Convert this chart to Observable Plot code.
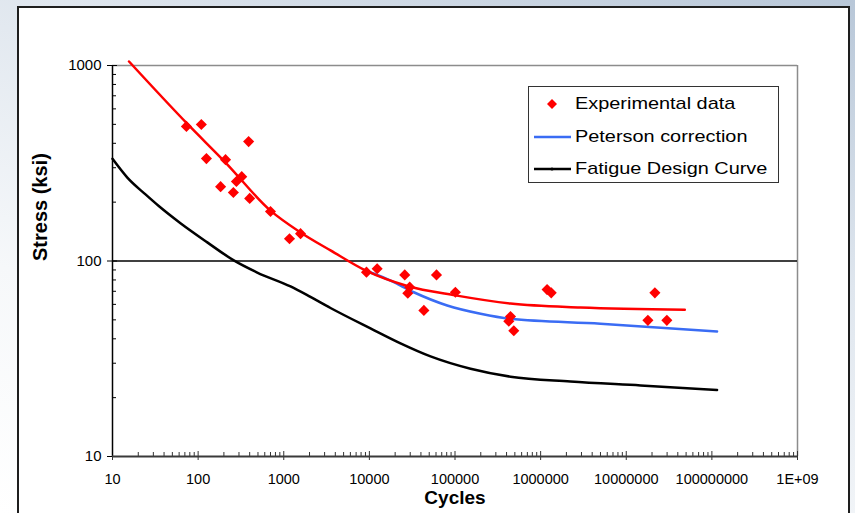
<!DOCTYPE html>
<html>
<head>
<meta charset="utf-8">
<script src="https://cdn.jsdelivr.net/npm/d3@7"></script>
<script src="https://cdn.jsdelivr.net/npm/@observablehq/plot@0.6"></script>
<style>
  html, body { margin: 0; padding: 0; }
  body { width: 855px; height: 513px; overflow: hidden; position: relative;
    background: linear-gradient(200deg, #b8c7d8 0%, #dfe6ee 35%, #f6f8fa 70%, #ffffff 100%);
    font-family: "Liberation Sans", Arial, sans-serif; }
  #frame { position: absolute; left: 17px; top: 6px; width: 833px; height: 520px;
    background: #fff; border: 2px solid #1e1e1e; box-sizing: border-box; }
  #chart { position: absolute; left: 0; top: 0; }
  #legend { position: absolute; left: 528px; top: 86px; width: 251px; height: 97px;
    border: 1px solid #333; background: #fff; box-sizing: border-box; }
  .row { position: absolute; left: 0; height: 24px; width: 100%; }
  .row span { position: absolute; left: 46px; top: 0; font-size: 17px; line-height: 24px;
    color: #000; transform: scaleX(1.17); transform-origin: left center; white-space: nowrap; }
  .sym { position: absolute; }
</style>
</head>
<body>
<div id="frame"></div>
<div id="chart"></div>
<div id="legend">
  <div class="row" style="top:5px">
    <svg class="sym" width="44" height="24" style="left:0;top:0"><path d="M23,7 L28,12 L23,17 L18,12 Z" fill="#ff0000"/></svg>
    <span>Experimental data</span>
  </div>
  <div class="row" style="top:38px">
    <svg class="sym" width="44" height="24" style="left:0;top:0"><line x1="5" y1="12" x2="42" y2="12" stroke="#3a6cf4" stroke-width="2.5"/></svg>
    <span>Peterson correction</span>
  </div>
  <div class="row" style="top:70px">
    <svg class="sym" width="44" height="24" style="left:0;top:0"><line x1="5" y1="12" x2="42" y2="12" stroke="#000" stroke-width="2.5"/><circle cx="23" cy="12" r="1.6" fill="#000"/></svg>
    <span>Fatigue Design Curve</span>
  </div>
</div>
<script>
// Experimental data points (cycles, stress ksi)
const expCycles = [73, 109, 125, 209, 183, 258, 280, 323, 389, 400, 700, 1167, 1570,
  9250, 12330, 25900, 60800, 29600, 28100, 101000, 43300, 445000, 425000, 486000,
  1190000, 1330000, 21600000, 17900000, 29800000];
const expStress = [488, 499, 334, 330, 240, 224, 255, 270, 408, 209, 179, 130, 138,
  87.7, 91.2, 84.9, 84.9, 73.5, 68.4, 69.2, 55.9, 52, 49.2, 44,
  71.4, 68.7, 68.7, 49.7, 49.7];

// Fit through experimental data (red)
const fitCycles = [15.6, 74.5, 209, 700, 1570, 3516, 9250, 27700, 101000, 445000, 2920000, 48300000];
const fitStress = [1048, 504, 319, 181, 140, 113.3, 88.9, 74.5, 66.7, 60.6, 57.8, 56.3];

// Peterson correction (blue)
const petCycles = [9250, 11170, 17650, 33000, 81100, 199000, 445000, 5000000, 115000000];
const petStress = [88.9, 86.3, 79.4, 69.2, 59.2, 53.7, 50.6, 47.8, 43.6];

// Fatigue design curve (black)
const fdcCycles = [10, 14.9, 24.3, 34.7, 62.2, 128, 261, 490, 1200, 2050, 3516, 10300, 23100, 51800, 152000, 445000, 2230000, 14700000, 115000000];
const fdcStress = [333, 267, 219, 191, 156, 124.5, 100.7, 87.3, 74.1, 65.5, 57.5, 45.2, 37.9, 32.5, 28.1, 25.6, 24.2, 23.1, 21.9];

// Axis ticks
const xMajor = [1e1, 1e2, 1e3, 1e4, 1e5, 1e6, 1e7, 1e8, 1e9];
const xLabels = ["10", "100", "1000", "10000", "100000", "1000000", "10000000", "100000000", "1E+09"];
const yMajor = [10, 100, 1000];
const yLabels = ["10", "100", "1000"];

const zip = (xs, ys) => xs.map((x, i) => ({x, y: ys[i]}));
const expData = zip(expCycles, expStress);
const fitData = zip(fitCycles, fitStress);
const petData = zip(petCycles, petStress);
const fdcData = zip(fdcCycles, fdcStress);

const xLabelOf = new Map(xMajor.map((v, i) => [v, xLabels[i]]));
const yLabelOf = new Map(yMajor.map((v, i) => [v, yLabels[i]]));
const nearest = (m, d) => {
  for (const [k, v] of m) if (Math.abs(Math.log10(k) - Math.log10(d)) < 1e-6) return v;
  return "";
};

const xMinor = [];
for (let e = 1; e < 9; e++) for (let m = 2; m <= 9; m++) xMinor.push(m * Math.pow(10, e));
const yMinor = [];
for (let e = 1; e < 3; e++) for (let m = 2; m <= 9; m++) yMinor.push(m * Math.pow(10, e));

const font = "'Liberation Sans', Arial, sans-serif";

const chart = Plot.plot({
  width: 855,
  height: 513,
  marginLeft: 112,
  marginRight: 58,
  marginTop: 65,
  marginBottom: 57,
  style: { background: "transparent", fontFamily: font, color: "#000", overflow: "visible" },
  x: { type: "log", domain: [10, 1e9] },
  y: { type: "log", domain: [10, 1000] },
  marks: [
    Plot.ruleY([1000], { stroke: "#8c8c8c", strokeWidth: 1.5 }),
    Plot.ruleX([1e9], { stroke: "#8c8c8c", strokeWidth: 1.5 }),
    Plot.ruleY([100], { stroke: "#000", strokeWidth: 1.3 }),
    // minor ticks (inward)
    Plot.axisX({ ticks: xMinor, tickSize: -4, tickFormat: () => "", label: null, stroke: "#333" }),
    Plot.axisY({ ticks: yMinor, tickSize: -4, tickFormat: () => "", label: null, stroke: "#000" }),
    // major ticks inward part
    Plot.axisX({ ticks: xMajor, tickSize: -5, tickFormat: () => "", label: null, stroke: "#333" }),
    Plot.axisY({ ticks: yMajor, tickSize: -5, tickFormat: () => "", label: null }),
    // major ticks with labels
    Plot.axisX({ ticks: xMajor, tickSize: 4, tickPadding: 13, tickFormat: (d) => nearest(xLabelOf, d),
      label: null, fontSize: 14.5, stroke: "#333", fill: "#000" }),
    Plot.axisY({ ticks: yMajor, tickSize: 5, tickPadding: 6, tickFormat: (d) => nearest(yLabelOf, d),
      label: null, fontSize: 15, fill: "#000" }),
    Plot.ruleX([10], { stroke: "#000", strokeWidth: 1.5 }),
    Plot.ruleY([10], { stroke: "#3a3a3a", strokeWidth: 2 }),
    Plot.line(fdcData, { x: "x", y: "y", stroke: "#000", strokeWidth: 2.5, curve: "monotone-x" }),
    Plot.line(petData, { x: "x", y: "y", stroke: "#3a6cf4", strokeWidth: 2.5, curve: "monotone-x" }),
    Plot.line(fitData, { x: "x", y: "y", stroke: "#ff0000", strokeWidth: 2.5, curve: "monotone-x" }),
    Plot.dot(expData, { x: "x", y: "y", symbol: "diamond2", r: 5, fill: "#ff0000", stroke: "none" }),
    Plot.text(["Cycles"], { frameAnchor: "bottom", dy: 47, fontSize: 19, fontWeight: "bold", fill: "#000" }),
    Plot.text(["Stress (ksi)"], { frameAnchor: "left", dx: -72, rotate: -90, fontSize: 20, fontWeight: "bold", fill: "#000" })
  ]
});
document.getElementById("chart").appendChild(chart);
</script>
</body>
</html>
